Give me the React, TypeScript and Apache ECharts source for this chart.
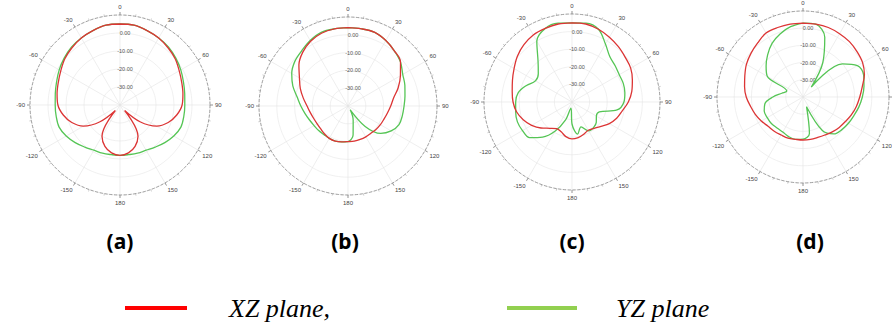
import React, { useEffect, useRef } from "react";
import * as echarts from "echarts";

// Sampled angles (degrees, clockwise from top)
const ANGLES = [0, 10, 20, 30, 40, 50, 60, 70, 80, 90, 100, 110, 120, 130, 140, 150, 160, 170,
  180, 190, 200, 210, 220, 230, 240, 250, 260, 270, 280, 290, 300, 310, 320, 330, 340, 350];

// Gain in dB
const XZ_A = [5, 5, 4, 3, 1.5, 0, -2, -3.5, -4.5, -5.5, -8, -11.5, -16.5, -25.5, -36, -20, -15.5, -13,
  -12, -13, -15.5, -20, -36, -25.5, -16.5, -11.5, -8, -5.5, -4.5, -3.5, -2, 0, 1.5, 3, 4, 5];
const YZ_A = [5, 5, 4, 3, 2, 0.5, -1, -2.5, -3.5, -4, -4, -4, -5.5, -7.5, -9.5, -11, -11.5, -12,
  -12, -12, -11.5, -11, -9.5, -7.5, -5.5, -4, -4, -4, -3.5, -2.5, -1, 0.5, 2, 3, 4, 5];

const XZ_B = [4, 4, 4, 2.5, 0.5, -1.5, -6, -10, -14, -16, -17.5, -18.5, -19, -19.5, -20, -20, -20, -20,
  -20, -19.5, -19, -19, -19.5, -20, -20, -19.5, -18.5, -17, -14.5, -11.5, -8.5, -4, -0.5, 2, 3.5, 4];
const YZ_B = [4, 4, 4, 2.5, 0.5, -1.5, -4.5, -6, -7.5, -8.5, -9, -9.5, -12, -16, -25, -37.5, -31.5, -23.5,
  -20, -19.5, -19, -19, -19, -18.5, -18, -17, -15.5, -13.5, -11, -7, -3.5, -1, 0.5, 2.5, 4, 4];

const XZ_C = [5, 5, 4, 2.5, 1, -0.5, -1.5, -3.5, -5.5, -8, -11, -13, -15.5, -18.5, -20.5, -21.5, -20.5, -19.5,
  -19, -20, -22, -22.5, -20.5, -17, -13.5, -10.5, -8, -6.5, -5.5, -4, -2, 0.5, 2.5, 4, 4.5, 5];
const YZ_C = [5, 5.5, 4, -2, -6.5, -8, -9, -9, -9.5, -10.5, -14, -23.5, -24, -22, -21, -21, -25, -21.5,
  -27.5, -36.5, -29, -21, -14, -8.5, -7.5, -7, -7.5, -8, -9, -12.5, -16, -15, -10, 0, 4.5, 5.5];

const XZ_D = [3, 3, 3, 2.5, 2, 1, 0, -2, -5, -7, -8.5, -10, -11.5, -12.5, -13.5, -14.5, -15, -15,
  -15, -15, -14.5, -14.5, -14, -13.5, -12, -10.5, -9, -7, -5.5, -4, -2, -0.5, 1, 3, 3, 3];
const YZ_D = [3, 3, -3, -17, -32.5, -10, -3.5, -2.5, -4, -5.5, -7, -8.5, -9.5, -10.5, -12, -17.5, -34, -18.5,
  -15.5, -15, -15.5, -16.5, -16.5, -16, -16, -16, -17.5, -22.5, -27.5, -30, -16, -12, -8, -4, -1, 1.5];

const PANEL_LABELS = ["(a)", "(b)", "(c)", "(d)"];
const XZ_SERIES = [XZ_A, XZ_B, XZ_C, XZ_D];
const YZ_SERIES = [YZ_A, YZ_B, YZ_C, YZ_D];
const SERIES_NAMES = ["XZ plane", "YZ plane"];
// angle labels hidden where the reference crops them (panel d, 90°)
const HIDDEN_ANGLE_LABELS = [[], [], [], [90]];

const R_MIN = -40;
const R_MAX = 10;
const R_STEP = 10;

// layout
const CENTERS = [[120, 105], [348, 106], [572, 102], [803, 97]];
const RADII = [90, 89, 88, 86];
const LABEL_X = [120, 345, 572, 810];
const LABEL_Y = 241;

const RED = "#dc3535";
const GREEN = "#55c555";

function toPolar(vals: number[]) {
  const d = ANGLES.map((a, i) => [vals[i], a]);
  d.push([vals[0], 360]);
  return d;
}

export default function App() {
  const ref = useRef<HTMLDivElement>(null);
  useEffect(() => {
    document.body.style.margin = "0";
    const chart = echarts.init(ref.current!, undefined, { renderer: "svg" });
    const series: any[] = [];
    PANEL_LABELS.forEach((_, i) => {
      series.push({
        name: SERIES_NAMES[0], type: "line", coordinateSystem: "polar", polarIndex: i,
        data: toPolar(XZ_SERIES[i]), symbol: "none", smooth: 0.35,
        lineStyle: { width: 1.3, color: RED }, itemStyle: { color: RED }, z: 3,
      });
      series.push({
        name: SERIES_NAMES[1], type: "line", coordinateSystem: "polar", polarIndex: i,
        data: toPolar(YZ_SERIES[i]), symbol: "none", smooth: 0.35,
        lineStyle: { width: 1.3, color: GREEN }, itemStyle: { color: GREEN }, z: 2,
      });
    });
    const option: any = {
      animation: false,
      backgroundColor: "#ffffff",
      polar: PANEL_LABELS.map((_, i) => ({ center: CENTERS[i], radius: RADII[i] })),
      angleAxis: PANEL_LABELS.map((_, i) => ({
        polarIndex: i, type: "value", min: 0, max: 360, interval: 30,
        startAngle: 90, clockwise: true,
        axisLine: { show: true, lineStyle: { color: "#8c8c8c", type: "dashed", width: 0.8 } },
        axisTick: { show: true, length: 3, lineStyle: { color: "#777", width: 0.8 } },
        minorTick: { show: true, splitNumber: 3, length: 2, lineStyle: { color: "#aaa", width: 0.6 } },
        axisLabel: {
          fontSize: 6, color: "#444", margin: 5,
          formatter: (v: number) =>
            v === 360 || (HIDDEN_ANGLE_LABELS[i] as number[]).includes(v) ? "" : String(v > 180 ? v - 360 : v),
        },
        splitLine: { show: true, lineStyle: { color: "#e2e2e2", width: 0.6 } },
      })),
      radiusAxis: PANEL_LABELS.map((_, i) => ({
        polarIndex: i, type: "value", min: R_MIN, max: R_MAX, interval: R_STEP,
        axisLine: { show: false }, axisTick: { show: false },
        axisLabel: {
          fontSize: 5.5, color: "#555", align: "center", margin: -5,
          formatter: (v: number) => (v === R_MAX || v === R_MIN ? "" : v.toFixed(2)),
        },
        splitLine: { show: true, lineStyle: { color: "#e6e6e6", width: 0.6 } },
      })),
      legend: [
        {
          data: [{ name: SERIES_NAMES[0], itemStyle: { color: "#ff0000" } }],
          left: 125, top: 295, padding: 0, icon: "rect", itemWidth: 62, itemHeight: 4, selectedMode: false,
          formatter: "XZ plane,",
          textStyle: { fontFamily: "Liberation Serif", fontStyle: "italic", fontSize: 26, color: "#000", padding: [0, 0, 0, 37] },
        },
        {
          data: [{ name: SERIES_NAMES[1], itemStyle: { color: "#92d050" } }],
          left: 507, top: 295, padding: 0, icon: "rect", itemWidth: 70, itemHeight: 4, selectedMode: false,
          textStyle: { fontFamily: "Liberation Serif", fontStyle: "italic", fontSize: 26, color: "#000", padding: [0, 0, 0, 34] },
        },
      ],
      graphic: PANEL_LABELS.map((t, i) => ({
        type: "text", x: LABEL_X[i], y: LABEL_Y,
        style: {
          text: t, fill: "#000", font: "bold 21px 'Noto Sans'",
          textAlign: "center", textVerticalAlign: "middle",
        },
      })),
      series,
    };
    chart.setOption(option);
    return () => chart.dispose();
  }, []);
  return <div ref={ref} style={{ width: 892, height: 327 }} />;
}
